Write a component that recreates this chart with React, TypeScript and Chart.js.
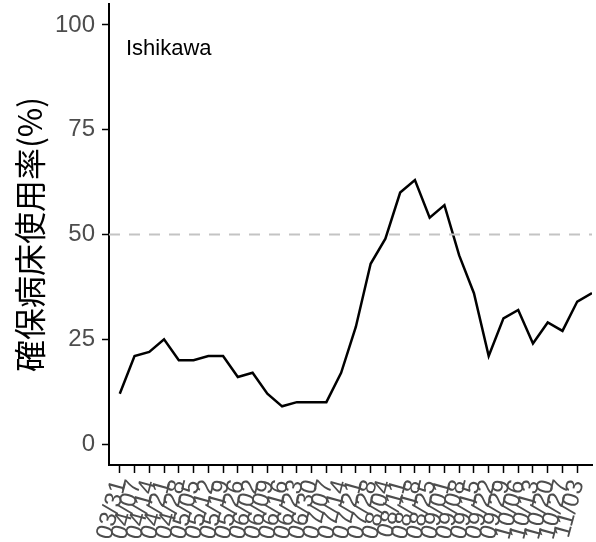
import React, { useEffect, useRef } from "react";
import { Chart, registerables } from "chart.js";

Chart.register(...registerables);

const dateLabels = [
  "03/31", "04/07", "04/14", "04/21", "04/28", "05/05", "05/12", "05/19",
  "05/26", "06/02", "06/09", "06/16", "06/23", "06/30", "07/07", "07/14",
  "07/21", "07/28", "08/04", "08/11", "08/18", "08/25", "09/01", "09/08",
  "09/15", "09/22", "09/29", "10/06", "10/13", "10/20", "10/27", "11/03",
];

const occupancy = [
  12, 21, 22, 25, 20, 20, 21, 21, 16, 17, 12, 9, 10, 10, 10, 17,
  28, 43, 49, 60, 63, 54, 57, 45, 36, 21, 30, 32, 24, 29, 27, 34, 36,
];

const yTicks = [0, 25, 50, 75, 100];
const threshold = 50;
const prefecture = "Ishikawa";
const yTitle = "確保病床使用率(%)";

const X_MIN = -0.73;
const X_MAX = occupancy.length - 1;

const FONT = '"Liberation Sans", Arial, sans-serif';

export default function App() {
  const ref = useRef<HTMLCanvasElement | null>(null);

  useEffect(() => {
    if (!ref.current) return;
    const labelPlugin = {
      id: "prefLabel",
      afterDraw(chart: any) {
        const { ctx, chartArea } = chart;
        ctx.save();
        ctx.font = `22px ${FONT}`;
        ctx.fillStyle = "#000000";
        ctx.textBaseline = "alphabetic";
        ctx.textAlign = "left";
        ctx.fillText(prefecture, chartArea.left + 17, chartArea.top + 51);
        ctx.restore();
      },
    };

    const chart = new Chart(ref.current, {
      type: "line",
      data: {
        datasets: [
          {
            data: [
              { x: X_MIN, y: threshold },
              { x: X_MAX, y: threshold },
            ],
            borderColor: "#c4c4c4",
            borderWidth: 2,
            borderDash: [11, 9],
            pointRadius: 0,
            fill: false,
          },
          {
            data: occupancy.map((v, i) => ({ x: i, y: v })),
            borderColor: "#000000",
            borderWidth: 2.5,
            pointRadius: 0,
            tension: 0,
            fill: false,
          },
        ],
      },
      options: {
        animation: false,
        responsive: false,
        maintainAspectRatio: false,
        layout: { padding: { left: 0, right: 4, top: 4, bottom: 0 } },
        plugins: {
          legend: { display: false },
          tooltip: { enabled: false },
        },
        scales: {
          x: {
            type: "linear",
            min: X_MIN,
            max: X_MAX,
            afterBuildTicks: (scale: any) => {
              scale.ticks = dateLabels.map((_, i) => ({ value: i }));
            },
            afterFit: (scale: any) => {
              scale.height = 77;
              scale.paddingLeft = 0;
              scale.paddingRight = 0;
            },
            grid: {
              drawOnChartArea: false,
              drawTicks: true,
              tickLength: 8,
              tickColor: "#000000",
              tickWidth: 1.5,
            },
            border: { display: true, color: "#000000", width: 2 },
            ticks: {
              autoSkip: false,
              minRotation: 75,
              maxRotation: 75,
              padding: 4,
              color: "#4d4d4d",
              font: { family: FONT, size: 24 },
              callback: (v: any) => dateLabels[Math.round(Number(v))] ?? "",
            },
          },
          y: {
            type: "linear",
            min: -5,
            max: 105,
            afterBuildTicks: (scale: any) => {
              scale.ticks = yTicks.map((v) => ({ value: v }));
            },
            afterFit: (scale: any) => {
              scale.width = 109;
              scale.paddingTop = 0;
              scale.paddingBottom = 0;
            },
            grid: {
              drawOnChartArea: false,
              drawTicks: true,
              tickLength: 7,
              tickColor: "#000000",
              tickWidth: 1.5,
            },
            border: { display: true, color: "#000000", width: 2 },
            ticks: {
              padding: 7,
              color: "#4d4d4d",
              font: { family: FONT, size: 24 },
              callback: (v: any) => String(v),
            },
            title: {
              display: true,
              text: yTitle,
              color: "#000000",
              padding: { top: 11, bottom: 0 },
              font: { family: '"Noto Sans CJK JP", sans-serif', size: 32, lineHeight: 1.2 },
            },
          },
        },
      },
      plugins: [labelPlugin],
    });
    return () => chart.destroy();
  }, []);

  return (
    <div style={{ position: "absolute", left: 0, top: 0, width: 596, height: 542, overflow: "hidden", background: "#ffffff" }}>
      <canvas ref={ref} width={596} height={542} style={{ display: "block" }} />
    </div>
  );
}
